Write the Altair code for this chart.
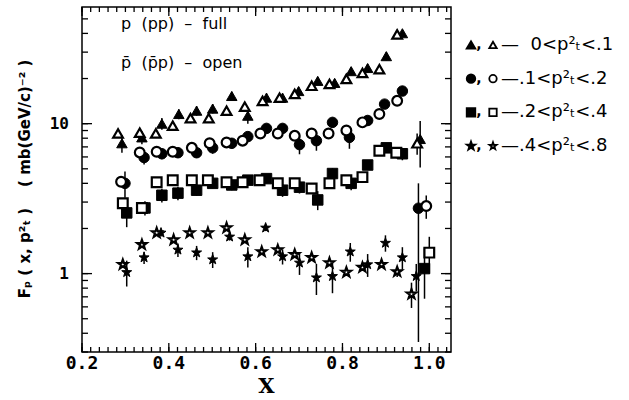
import altair as alt
import pandas as pd

# ---------------- data ----------------
bins = ["0<p²ₜ<.1", ".1<p²ₜ<.2", ".2<p²ₜ<.4", ".4<p²ₜ<.8"]

# p (pp) - filled symbols
pp_x = {
    bins[0]: [0.292, 0.338, 0.384, 0.423, 0.464, 0.501, 0.545, 0.582, 0.625, 0.662, 0.699, 0.743, 0.782, 0.820, 0.858, 0.901, 0.938, 0.979],
    bins[1]: [0.299, 0.343, 0.384, 0.421, 0.464, 0.501, 0.545, 0.582, 0.625, 0.662, 0.701, 0.740, 0.777, 0.816, 0.858, 0.897, 0.938, 0.975],
    bins[2]: [0.303, 0.345, 0.384, 0.421, 0.464, 0.501, 0.545, 0.582, 0.625, 0.662, 0.701, 0.743, 0.777, 0.820, 0.858, 0.901, 0.938, 0.989],
    bins[3]: [0.303, 0.343, 0.382, 0.421, 0.464, 0.501, 0.540, 0.582, 0.623, 0.662, 0.701, 0.740, 0.777, 0.818, 0.858, 0.899, 0.938, 0.970],
}
pp_y = {
    bins[0]: [7.4, 8.1, 10.0, 11.6, 12.2, 12.6, 15.3, 11.3, 14.9, 14.9, 16.5, 19.3, 18.7, 22.4, 23.5, 28.2, 40.1, 7.9],
    bins[1]: [4.0, 5.95, 6.3, 6.4, 6.4, 6.9, 7.4, 8.2, 9.3, 9.3, 7.25, 7.7, 10.2, 8.1, 10.5, 13.5, 16.5, 2.73],
    bins[2]: [2.54, 2.74, 3.33, 3.44, 3.6, 4.0, 3.9, 4.2, 4.3, 3.6, 3.77, 3.1, 4.65, 4.0, 5.3, 6.9, 6.3, 1.08],
    bins[3]: [1.02, 1.28, 1.87, 1.44, 1.38, 1.24, 1.76, 1.30, 2.02, 1.30, 1.18, 0.94, 0.96, 1.40, 1.15, 1.60, 1.28, 0.96],
}
pp_err_lo = {
    bins[0]: [1.0, 0.8, 0.9, 0.9, 0.9, 0.9, 1.0, 1.3, 1.0, 1.0, 1.1, 1.2, 1.2, 1.4, 1.5, 1.8, 2.0, 2.8],
    bins[1]: [0.8, 0.6, 0.5, 0.5, 0.5, 0.6, 0.6, 0.6, 0.7, 0.7, 1.0, 1.1, 0.8, 1.3, 0.8, 0.9, 1.0, 2.38],
    bins[2]: [0.5, 0.3, 0.35, 0.35, 0.3, 0.3, 0.3, 0.3, 0.3, 0.35, 0.35, 0.45, 0.4, 0.4, 0.4, 0.5, 0.6, 0.4],
    bins[3]: [0.2, 0.12, 0.1, 0.15, 0.15, 0.15, 0.1, 0.2, 0.1, 0.15, 0.2, 0.22, 0.22, 0.2, 0.2, 0.2, 0.22, 0.2],
}
pp_err_hi = {
    bins[0]: [1.0, 0.8, 0.9, 0.9, 0.9, 0.9, 1.0, 1.3, 1.0, 1.0, 1.1, 1.2, 1.2, 1.4, 1.5, 1.8, 2.0, 2.5],
    bins[1]: [0.8, 0.6, 0.5, 0.5, 0.5, 0.6, 0.6, 0.6, 0.7, 0.7, 1.0, 1.1, 0.8, 1.3, 0.8, 0.9, 1.0, 1.27],
    bins[2]: [0.5, 0.3, 0.35, 0.35, 0.3, 0.3, 0.3, 0.3, 0.3, 0.35, 0.35, 0.45, 0.4, 0.4, 0.4, 0.5, 0.6, 0.4],
    bins[3]: [0.2, 0.12, 0.1, 0.15, 0.15, 0.15, 0.1, 0.2, 0.1, 0.15, 0.2, 0.22, 0.22, 0.2, 0.2, 0.2, 0.22, 0.2],
}

# p̄ (p̄p) - open symbols
pb_x = {
    bins[0]: [0.283, 0.333, 0.370, 0.409, 0.450, 0.492, 0.533, 0.575, 0.616, 0.655, 0.690, 0.729, 0.770, 0.809, 0.846, 0.885, 0.926, 0.972],
    bins[1]: [0.290, 0.333, 0.372, 0.409, 0.453, 0.494, 0.533, 0.570, 0.611, 0.651, 0.690, 0.729, 0.768, 0.809, 0.846, 0.885, 0.926, 0.993],
    bins[2]: [0.294, 0.338, 0.372, 0.409, 0.453, 0.490, 0.533, 0.570, 0.609, 0.651, 0.690, 0.729, 0.770, 0.809, 0.846, 0.885, 0.924, 1.000],
    bins[3]: [0.294, 0.338, 0.372, 0.411, 0.448, 0.490, 0.533, 0.575, 0.614, 0.651, 0.690, 0.729, 0.770, 0.809, 0.846, 0.890, 0.926, 0.959],
}
pb_y = {
    bins[0]: [8.6, 8.7, 8.6, 9.7, 10.9, 10.9, 12.2, 13.0, 14.2, 14.9, 15.8, 17.9, 18.4, 19.9, 21.8, 23.1, 39.4, 7.4],
    bins[1]: [4.1, 6.43, 6.5, 6.5, 6.9, 7.4, 7.5, 7.7, 8.6, 8.6, 8.3, 8.6, 8.6, 9.0, 10.2, 11.6, 14.2, 2.82],
    bins[2]: [2.95, 2.74, 4.07, 4.2, 4.2, 4.2, 4.07, 4.07, 4.2, 4.0, 4.0, 3.7, 4.0, 4.2, 4.4, 6.6, 6.4, 1.38],
    bins[3]: [1.15, 1.56, 1.87, 1.68, 1.87, 1.87, 2.02, 1.68, 1.40, 1.44, 1.34, 1.28, 1.18, 1.02, 1.10, 1.15, 1.03, 0.73],
}
pb_err = {
    bins[0]: [0.3, 0.3, 0.3, 0.3, 0.3, 0.3, 0.4, 0.4, 0.4, 0.4, 0.4, 0.5, 0.5, 0.5, 0.6, 0.6, 1.0, 1.2],
    bins[1]: [0.3, 0.2, 0.2, 0.2, 0.2, 0.2, 0.2, 0.2, 0.3, 0.3, 0.3, 0.3, 0.3, 0.3, 0.3, 0.4, 0.4, 0.5],
    bins[2]: [0.2, 0.15, 0.15, 0.15, 0.15, 0.15, 0.15, 0.15, 0.15, 0.15, 0.15, 0.15, 0.15, 0.15, 0.2, 0.25, 0.25, 0.38],
    bins[3]: [0.05, 0.06, 0.06, 0.06, 0.06, 0.06, 0.06, 0.06, 0.05, 0.05, 0.05, 0.05, 0.05, 0.05, 0.05, 0.05, 0.08, 0.14],
}

NB = "\u00a0"
annotations = [f"p{NB*2}(pp){NB*2}–{NB*2}full", f"p\u0304{NB*2}(p\u0304p){NB*2}–{NB*2}open"]
annot_x = [0.29, 0.29]
annot_y = [46.0, 25.5]

legend_text = [f"—{NB*2}0<p²ₜ<.1", "—.1<p²ₜ<.2", "—.2<p²ₜ<.4", "—.4<p²ₜ<.8"]
x_title = ["X"]
y_title = [f"Fₚ{NB}({NB}x,{NB}p²ₜ{NB}){NB*4}({NB}mb(GeV/c)⁻²{NB})"]

# axis tick positions and labels
xticks = [round(0.2 + 0.02 * i, 2) for i in range(43)]
xmajor = [0.2, 0.4, 0.6, 0.8, 1.0]
xmajor_labels = ["0.2", "0.4", "0.6", "0.8", "1.0"]
yticks = [0.3, 0.4, 0.5, 0.6, 0.7, 0.8, 0.9, 1, 2, 3, 4, 5, 6, 7, 8, 9, 10, 20, 30, 40, 50]
ymajor = [1, 10]
ymajor_labels = ["1", "10"]

# ---------------- build tables ----------------
rows = []
for b in bins:
    for i in range(len(pp_x[b])):
        rows.append(dict(x=pp_x[b][i], y=pp_y[b][i], lo=pp_y[b][i] - pp_err_lo[b][i],
                         hi=pp_y[b][i] + pp_err_hi[b][i], bin=b, beam="pp"))
    for i in range(len(pb_x[b])):
        rows.append(dict(x=pb_x[b][i], y=pb_y[b][i], lo=pb_y[b][i] - pb_err[b][i],
                         hi=pb_y[b][i] + pb_err[b][i], bin=b, beam="pbar"))
df = pd.DataFrame(rows)
df_pp = df[df.beam == "pp"]
df_pb = df[df.beam == "pbar"]

STAR = ("M0,-1L0.235,-0.324L0.951,-0.309L0.38,0.124L0.588,0.809L0,0.4"
        "L-0.588,0.809L-0.38,0.124L-0.951,-0.309L-0.235,-0.324Z")
shape_scale = alt.Scale(domain=bins, range=["triangle-up", "circle", "square", STAR])

xscale = alt.Scale(domain=[0.2, 1.05], nice=False, zero=False)
yscale = alt.Scale(type="log", domain=[0.3, 60], nice=False)


def X(field):
    return alt.X(field, scale=xscale, axis=None)


def Y(field):
    return alt.Y(field, scale=yscale, axis=None)


# inward tick marks on all four sides, drawn from the tick arrays
tx = pd.DataFrame(dict(v=xticks))
txm = pd.DataFrame(dict(v=xmajor, t=xmajor_labels))
ty = pd.DataFrame(dict(v=yticks))
tym = pd.DataFrame(dict(v=ymajor, t=ymajor_labels))
TW = 1.3
tick_layers = [
    alt.Chart(tx).mark_rule(color="black", strokeWidth=TW).encode(x=X("v:Q"), y=alt.value(345), y2=alt.value(340)),
    alt.Chart(tx).mark_rule(color="black", strokeWidth=TW).encode(x=X("v:Q"), y=alt.value(0), y2=alt.value(5)),
    alt.Chart(txm).mark_rule(color="black", strokeWidth=TW).encode(x=X("v:Q"), y=alt.value(345), y2=alt.value(336)),
    alt.Chart(txm).mark_rule(color="black", strokeWidth=TW).encode(x=X("v:Q"), y=alt.value(0), y2=alt.value(9)),
    alt.Chart(ty).mark_rule(color="black", strokeWidth=TW).encode(y=Y("v:Q"), x=alt.value(0), x2=alt.value(6)),
    alt.Chart(ty).mark_rule(color="black", strokeWidth=TW).encode(y=Y("v:Q"), x=alt.value(369), x2=alt.value(363)),
    alt.Chart(tym).mark_rule(color="black", strokeWidth=TW).encode(y=Y("v:Q"), x=alt.value(0), x2=alt.value(10)),
    alt.Chart(tym).mark_rule(color="black", strokeWidth=TW).encode(y=Y("v:Q"), x=alt.value(369), x2=alt.value(359)),
]

# tick labels and axis titles as text
xlab = alt.Chart(txm).mark_text(font="DejaVu Sans Mono", fontWeight="bold", fontSize=18,
                                color="black", baseline="middle", align="center").encode(
    x=X("v:Q"), y=alt.value(357), text="t:N")
ylab = alt.Chart(tym).mark_text(font="DejaVu Sans Mono", fontWeight="bold", fontSize=16,
                                color="black", baseline="middle", align="right").encode(
    y=Y("v:Q"), x=alt.value(-13), text="t:N")
xtit = alt.Chart(pd.DataFrame(dict(t=x_title))).mark_text(
    font="DejaVu Serif", fontWeight="bold", fontSize=21, color="black",
    baseline="middle", align="center").encode(x=alt.value(184.5), y=alt.value(380), text="t:N")
ytit = alt.Chart(pd.DataFrame(dict(t=y_title))).mark_text(
    font="DejaVu Sans", fontWeight="bold", fontSize=15, color="black", angle=270,
    baseline="middle", align="center").encode(x=alt.value(-57), y=alt.value(172), text="t:N")

errs = alt.Chart(df).mark_rule(color="black", strokeWidth=1.5).encode(
    x=X("x:Q"), y=Y("lo:Q"), y2="hi:Q")
filled = alt.Chart(df_pp).mark_point(filled=True, fill="black", stroke="black",
                                     strokeWidth=1, opacity=1, size=110).encode(
    x=X("x:Q"), y=Y("y:Q"),
    shape=alt.Shape("bin:N", scale=shape_scale, legend=None))
opened = alt.Chart(df_pb).mark_point(filled=True, fill="white", stroke="black",
                                     strokeWidth=2.2, opacity=1, size=95).encode(
    x=X("x:Q"), y=Y("y:Q"),
    shape=alt.Shape("bin:N", scale=shape_scale, legend=None))
adf = pd.DataFrame(dict(t=annotations, x=annot_x, y=annot_y))
annot = alt.Chart(adf).mark_text(align="left", baseline="middle", font="DejaVu Sans",
                                 fontSize=16, color="black").encode(
    x=X("x:Q"), y=Y("y:Q"), text="t:N")

main = alt.layer(*tick_layers, errs, filled, opened, annot, xlab, ylab, xtit, ytit)

ldf = pd.DataFrame(dict(bin=bins, label=legend_text))
ly = alt.Y("bin:N", scale=alt.Scale(domain=bins, range=[38, 139], padding=0), axis=None)
leg_f = alt.Chart(ldf).mark_point(filled=True, fill="black", stroke="black", opacity=1, size=70).encode(
    x=alt.value(389), y=ly, shape=alt.Shape("bin:N", scale=shape_scale, legend=None))
leg_c = alt.Chart(ldf).mark_text(text=",", fontSize=14, font="DejaVu Sans", fontWeight="bold",
                                 color="black").encode(x=alt.value(397), y=ly)
leg_o = alt.Chart(ldf).mark_point(filled=True, fill="white", stroke="black", strokeWidth=1.8,
                                  opacity=1, size=55).encode(
    x=alt.value(411), y=ly, shape=alt.Shape("bin:N", scale=shape_scale, legend=None))
leg_t = alt.Chart(ldf).mark_text(align="left", baseline="middle", font="DejaVu Sans",
                                 fontSize=18, color="black").encode(
    x=alt.value(419), y=ly, text="label:N")
legend = alt.layer(leg_f, leg_c, leg_o, leg_t)

chart = alt.layer(main, legend).resolve_scale(y="independent").properties(
    width=369, height=345,
    padding={"left": 82, "top": 7, "right": 178, "bottom": 48},
    autosize=alt.AutoSizeParams(type="none"),
    background="white",
).configure_view(stroke="black", strokeWidth=1.5)

chart.save("out.html", embed_options={"renderer": "svg", "actions": False})
